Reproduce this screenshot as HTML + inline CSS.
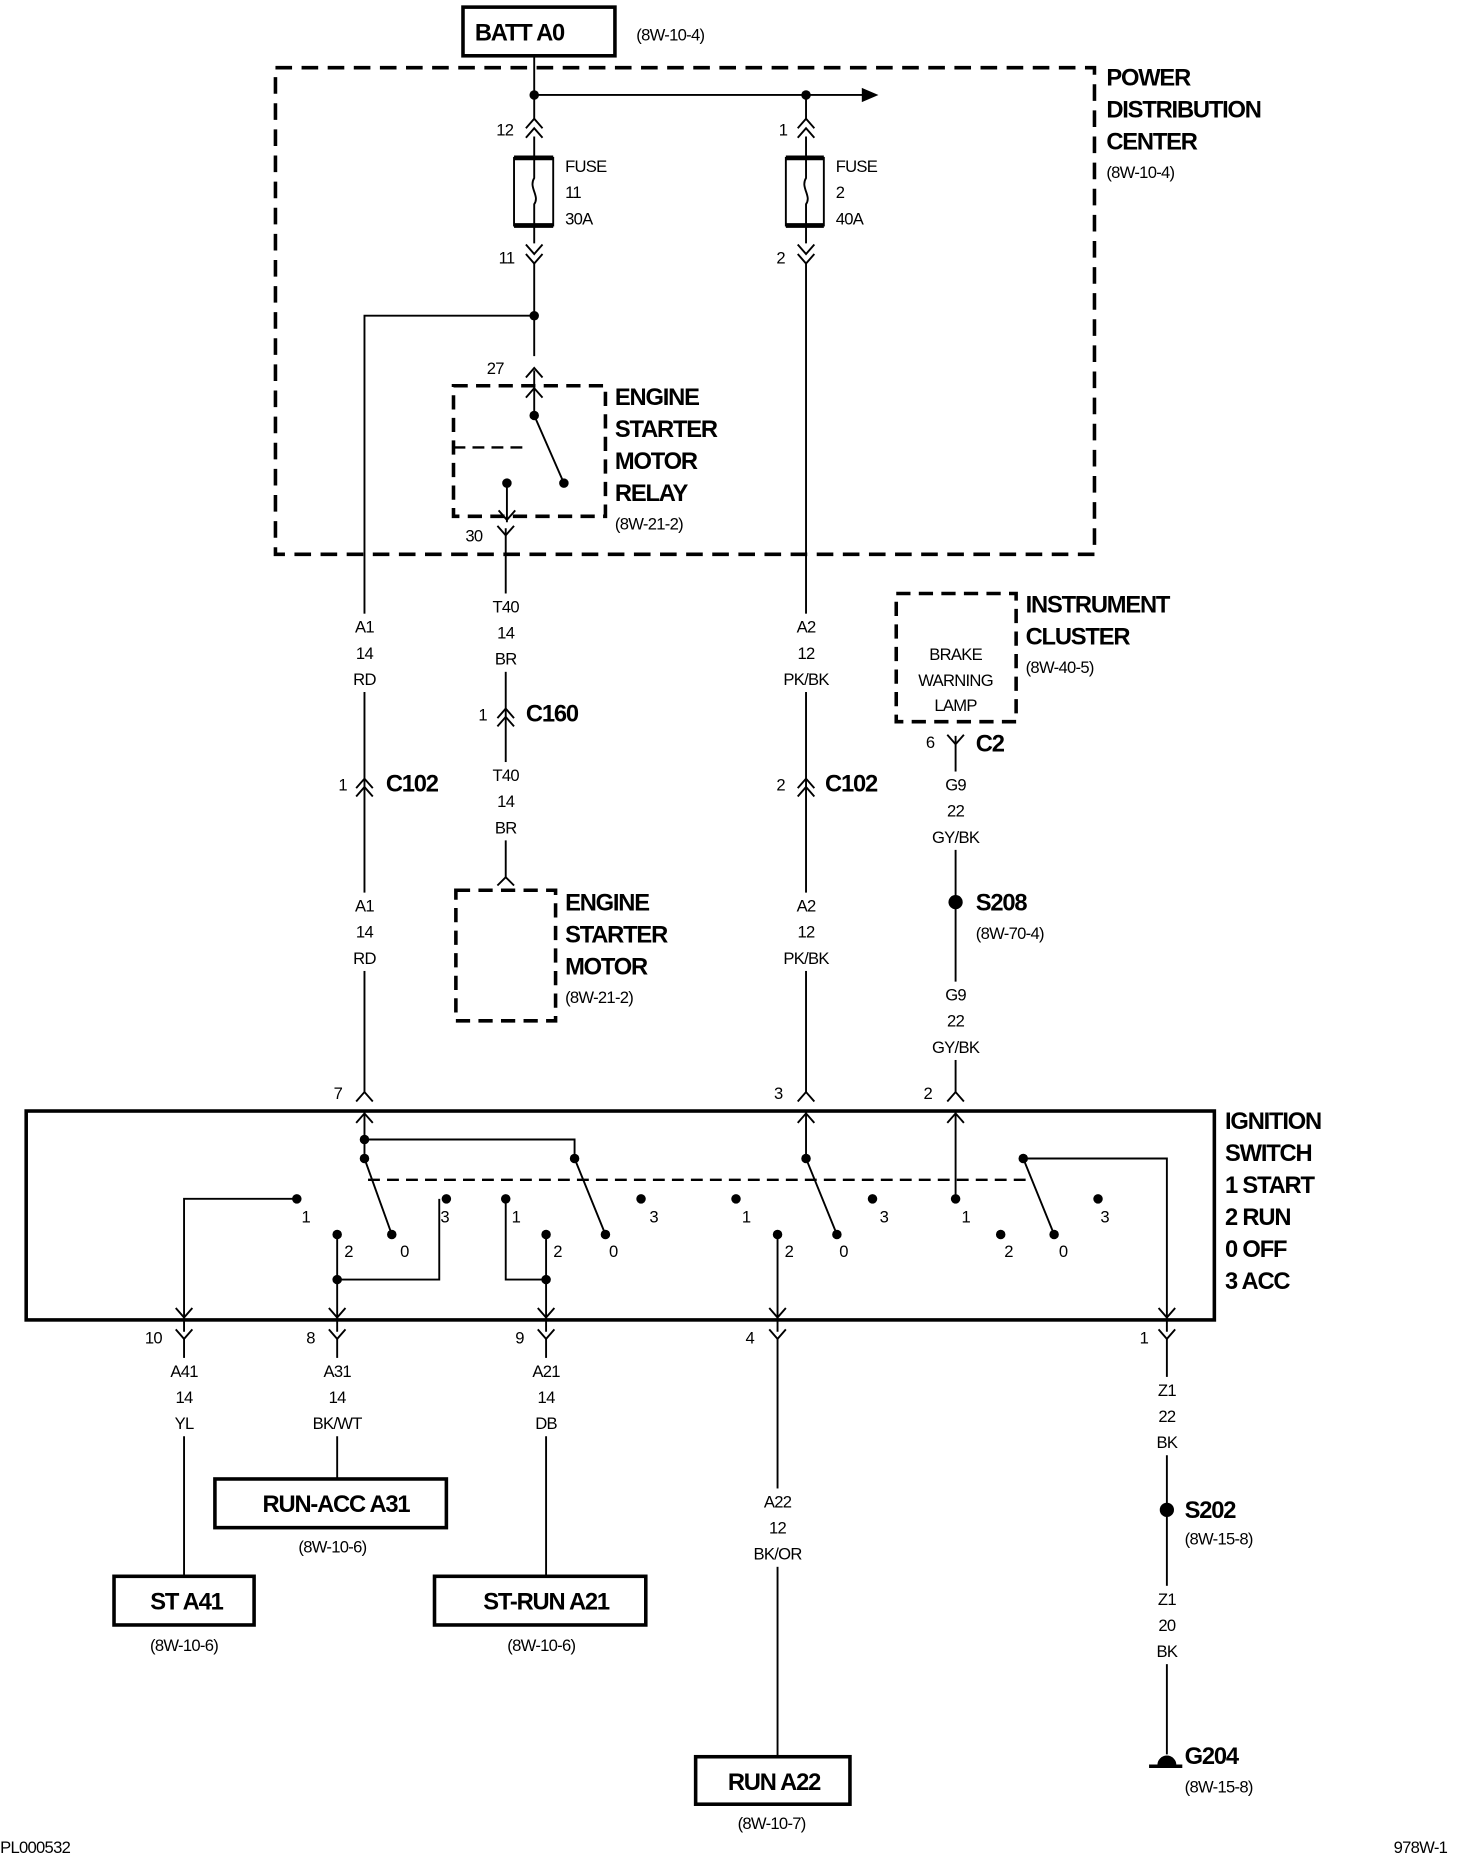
<!DOCTYPE html>
<html><head><meta charset="utf-8"><style>
html,body{margin:0;padding:0;background:#fff}
svg{display:block}
text{font-family:"Liberation Sans",sans-serif;fill:#000}
.b{font-weight:bold;font-size:20px;letter-spacing:-1px}
.s{font-size:14px;letter-spacing:-0.6px}
.w{font-size:14px;letter-spacing:-0.6px;text-anchor:middle}
.c{text-anchor:middle}
</style></head><body>
<svg width="1472" height="1860" viewBox="0 0 1240 1567" xmlns="http://www.w3.org/2000/svg">
<g fill="none" stroke="#000" stroke-width="1.6">
<rect x="390" y="6" width="128" height="41" stroke-width="3"/>
<rect x="232" y="57" width="690" height="410" stroke-width="3" stroke-dasharray="14 8"/>
<rect x="382" y="325" width="128" height="110" stroke-width="3" stroke-dasharray="12 7"/>
<line x1="382" y1="377" x2="440" y2="377" stroke-width="2" stroke-dasharray="10 6"/>
<rect x="384" y="750" width="84" height="110" stroke-width="3" stroke-dasharray="12 7"/>
<rect x="755" y="500" width="101" height="108" stroke-width="3" stroke-dasharray="12 7"/>
<rect x="22" y="936" width="1001" height="176" stroke-width="3"/>
<line x1="310" y1="994" x2="868" y2="994" stroke-width="2" stroke-dasharray="10 6"/>
<path d="M450 47V100M450 115V133M450 190V205M450 222V300M450 80H728"/>
<path d="M450 312V350L475 407M427 407V440"/>
<path d="M450 266H307V920M426 445V740"/>
<path d="M679 80V100M679 115V133M679 190V205M679 222V920"/>
<path d="M805 620V920"/>
<rect x="433" y="133" width="33" height="57"/>
<rect x="662" y="133" width="32" height="57"/>
<path d="M433 133H466M433 190H466M662 133H694M662 190H694" stroke-width="4"/>
<path d="M450 133V150C445 158 455 165 450 172V190M679 133V150C674 158 684 165 679 172V190"/>
<path d="M443 108L450 100L457 108M443 116L450 108L457 116"/>
<path d="M672 108L679 100L686 108M672 116L679 108L686 116"/>
<path d="M443 206L450 214L457 206M443 214L450 222L457 214"/>
<path d="M672 206L679 214L686 206M672 214L679 222L686 214"/>
<path d="M443 318L450 310L457 318M443 335L450 327L457 335"/>
<path d="M420 430L427 438L434 430M419 443L426 451L433 443"/>
<path d="M300 664L307 656L314 664M300 671L307 663L314 671"/>
<path d="M672 664L679 656L686 664M672 671L679 663L686 671"/>
<path d="M419 605L426 597L433 605M419 612L426 604L433 612"/>
<path d="M419 746L426 739L433 746"/>
<path d="M798 619L805 627L812 619"/>
<path d="M300 928L307 920L314 928M672 928L679 920L686 928M798 928L805 920L812 928"/>
<path d="M300 946L307 938L314 946M672 946L679 938L686 946M798 946L805 938L812 946"/>
<path d="M307 936V976M307 960H484V976M307 976L330 1040M484 976L510 1040"/>
<path d="M679 936V976L705 1040M805 936V1010M862 976L888 1040M862 976H983V1122"/>
<path d="M250 1010H155V1122M284 1040V1122M284 1078H370V1010"/>
<path d="M426 1010V1078H460M460 1040V1122M655 1040V1122"/>
<path d="M148 1102L155 1110L162 1102M277 1102L284 1110L291 1102M453 1102L460 1110L467 1102M648 1102L655 1110L662 1102M976 1102L983 1110L990 1102"/>
<path d="M148 1120L155 1128L162 1120M277 1120L284 1128L291 1120M453 1120L460 1128L467 1120M648 1120L655 1128L662 1120M976 1120L983 1128L990 1120"/>
<path d="M155 1128V1328M284 1128V1246M460 1128V1328M655 1128V1480M983 1128V1478"/>
<rect x="181" y="1246" width="195" height="41" stroke-width="3"/>
<rect x="96" y="1328" width="118" height="41" stroke-width="3"/>
<rect x="366" y="1328" width="178" height="41" stroke-width="3"/>
<rect x="586" y="1480" width="130" height="40" stroke-width="3"/>
<path d="M968 1488H996" stroke-width="3"/>
</g>
<g fill="#fff">
<rect x="285" y="517" width="44" height="66"/>
<rect x="404" y="500" width="44" height="66"/>
<rect x="653" y="517" width="52" height="66"/>
<rect x="404" y="642" width="44" height="66"/>
<rect x="779" y="650" width="52" height="66"/>
<rect x="285" y="752" width="44" height="66"/>
<rect x="653" y="752" width="52" height="66"/>
<rect x="779" y="827" width="52" height="66"/>
<rect x="133" y="1144" width="44" height="66"/>
<rect x="258" y="1144" width="52" height="66"/>
<rect x="438" y="1144" width="44" height="66"/>
<rect x="629" y="1254" width="52" height="66"/>
<rect x="961" y="1160" width="44" height="66"/>
<rect x="961" y="1336" width="44" height="66"/>
</g>
<path d="M726 74L740 80L726 86Z"/>
<g>
<circle cx="450" cy="80" r="4"/><circle cx="679" cy="80" r="4"/><circle cx="450" cy="266" r="4"/>
<circle cx="450" cy="350" r="4"/><circle cx="475" cy="407" r="4"/><circle cx="427" cy="407" r="4"/>
<circle cx="805" cy="760" r="6"/><circle cx="983" cy="1272" r="6"/>
<path d="M975 1487A8 8 0 0 1 991 1487Z"/>
<circle cx="307" cy="960" r="4"/><circle cx="307" cy="976" r="4"/><circle cx="484" cy="976" r="4"/>
<circle cx="250" cy="1010" r="4"/><circle cx="284" cy="1040" r="4"/><circle cx="330" cy="1040" r="4"/><circle cx="376" cy="1010" r="4"/>
<circle cx="284" cy="1078" r="4"/><circle cx="460" cy="1078" r="4"/>
<circle cx="426" cy="1010" r="4"/><circle cx="460" cy="1040" r="4"/><circle cx="510" cy="1040" r="4"/><circle cx="540" cy="1010" r="4"/>
<circle cx="679" cy="976" r="4"/><circle cx="620" cy="1010" r="4"/><circle cx="655" cy="1040" r="4"/><circle cx="705" cy="1040" r="4"/><circle cx="735" cy="1010" r="4"/>
<circle cx="805" cy="1010" r="4"/><circle cx="843" cy="1040" r="4"/><circle cx="888" cy="1040" r="4"/><circle cx="925" cy="1010" r="4"/><circle cx="862" cy="976" r="4"/>
</g>
<text class="b" x="400" y="34">BATT A0</text>
<text class="s" x="536" y="34">(8W-10-4)</text>
<text class="b" x="932" y="72">POWER</text>
<text class="b" x="932" y="99">DISTRIBUTION</text>
<text class="b" x="932" y="126">CENTER</text>
<text class="s" x="932" y="150">(8W-10-4)</text>
<text class="s" x="418" y="114">12</text><text class="s" x="656" y="114">1</text>
<text class="s" x="420" y="222">11</text><text class="s" x="654" y="222">2</text>
<text class="s" x="476" y="145">FUSE</text><text class="s" x="476" y="167">11</text><text class="s" x="476" y="189">30A</text>
<text class="s" x="704" y="145">FUSE</text><text class="s" x="704" y="167">2</text><text class="s" x="704" y="189">40A</text>
<text class="s" x="410" y="315">27</text><text class="s" x="392" y="456">30</text>
<text class="b" x="518" y="341">ENGINE</text><text class="b" x="518" y="368">STARTER</text>
<text class="b" x="518" y="395">MOTOR</text><text class="b" x="518" y="422">RELAY</text>
<text class="s" x="518" y="446">(8W-21-2)</text>
<text class="w" x="307" y="533">A1</text><text class="w" x="307" y="555">14</text><text class="w" x="307" y="577">RD</text>
<text class="w" x="426" y="516">T40</text><text class="w" x="426" y="538">14</text><text class="w" x="426" y="560">BR</text>
<text class="w" x="679" y="533">A2</text><text class="w" x="679" y="555">12</text><text class="w" x="679" y="577">PK/BK</text>
<text class="s" x="403" y="607">1</text><text class="b" x="443" y="608">C160</text>
<text class="w" x="426" y="658">T40</text><text class="w" x="426" y="680">14</text><text class="w" x="426" y="702">BR</text>
<text class="s" x="285" y="666">1</text><text class="b" x="325" y="667">C102</text>
<text class="s" x="654" y="666">2</text><text class="b" x="695" y="667">C102</text>
<text class="s c" x="805" y="556">BRAKE</text><text class="s c" x="805" y="578">WARNING</text><text class="s c" x="805" y="599">LAMP</text>
<text class="b" x="864" y="516">INSTRUMENT</text><text class="b" x="864" y="543">CLUSTER</text>
<text class="s" x="864" y="567">(8W-40-5)</text>
<text class="s" x="780" y="630">6</text><text class="b" x="822" y="633">C2</text>
<text class="w" x="805" y="666">G9</text><text class="w" x="805" y="688">22</text><text class="w" x="805" y="710">GY/BK</text>
<text class="b" x="822" y="767">S208</text><text class="s" x="822" y="791">(8W-70-4)</text>
<text class="w" x="805" y="843">G9</text><text class="w" x="805" y="865">22</text><text class="w" x="805" y="887">GY/BK</text>
<text class="b" x="476" y="767">ENGINE</text><text class="b" x="476" y="794">STARTER</text><text class="b" x="476" y="821">MOTOR</text>
<text class="s" x="476" y="845">(8W-21-2)</text>
<text class="w" x="307" y="768">A1</text><text class="w" x="307" y="790">14</text><text class="w" x="307" y="812">RD</text>
<text class="w" x="679" y="768">A2</text><text class="w" x="679" y="790">12</text><text class="w" x="679" y="812">PK/BK</text>
<text class="s" x="281" y="926">7</text><text class="s" x="652" y="926">3</text><text class="s" x="778" y="926">2</text>
<text class="b" x="1032" y="951">IGNITION</text><text class="b" x="1032" y="978">SWITCH</text>
<text class="b" x="1032" y="1005">1 START</text><text class="b" x="1032" y="1032">2 RUN</text>
<text class="b" x="1032" y="1059">0 OFF</text><text class="b" x="1032" y="1086">3 ACC</text>
<text class="s" x="254" y="1030">1</text><text class="s" x="290" y="1059">2</text><text class="s" x="337" y="1059">0</text><text class="s" x="371" y="1030">3</text>
<text class="s" x="431" y="1030">1</text><text class="s" x="466" y="1059">2</text><text class="s" x="513" y="1059">0</text><text class="s" x="547" y="1030">3</text>
<text class="s" x="625" y="1030">1</text><text class="s" x="661" y="1059">2</text><text class="s" x="707" y="1059">0</text><text class="s" x="741" y="1030">3</text>
<text class="s" x="810" y="1030">1</text><text class="s" x="846" y="1059">2</text><text class="s" x="892" y="1059">0</text><text class="s" x="927" y="1030">3</text>
<text class="s" x="122" y="1132">10</text><text class="s" x="258" y="1132">8</text><text class="s" x="434" y="1132">9</text>
<text class="s" x="628" y="1132">4</text><text class="s" x="960" y="1132">1</text>
<text class="w" x="155" y="1160">A41</text><text class="w" x="155" y="1182">14</text><text class="w" x="155" y="1204">YL</text>
<text class="w" x="284" y="1160">A31</text><text class="w" x="284" y="1182">14</text><text class="w" x="284" y="1204">BK/WT</text>
<text class="w" x="460" y="1160">A21</text><text class="w" x="460" y="1182">14</text><text class="w" x="460" y="1204">DB</text>
<text class="w" x="655" y="1270">A22</text><text class="w" x="655" y="1292">12</text><text class="w" x="655" y="1314">BK/OR</text>
<text class="w" x="983" y="1176">Z1</text><text class="w" x="983" y="1198">22</text><text class="w" x="983" y="1220">BK</text>
<text class="w" x="983" y="1352">Z1</text><text class="w" x="983" y="1374">20</text><text class="w" x="983" y="1396">BK</text>
<text class="b c" x="283" y="1274">RUN-ACC A31</text><text class="s c" x="280" y="1308">(8W-10-6)</text>
<text class="b c" x="157" y="1356">ST A41</text><text class="s c" x="155" y="1391">(8W-10-6)</text>
<text class="b c" x="460" y="1356">ST-RUN A21</text><text class="s c" x="456" y="1391">(8W-10-6)</text>
<text class="b c" x="652" y="1508">RUN A22</text><text class="s c" x="650" y="1541">(8W-10-7)</text>
<text class="b" x="998" y="1279">S202</text><text class="s" x="998" y="1301">(8W-15-8)</text>
<text class="b" x="998" y="1486">G204</text><text class="s" x="998" y="1510">(8W-15-8)</text>
<text class="s" x="0" y="1561">PL000532</text>
<text class="s" x="1174" y="1561">978W-1</text>
</svg>
</body></html>
